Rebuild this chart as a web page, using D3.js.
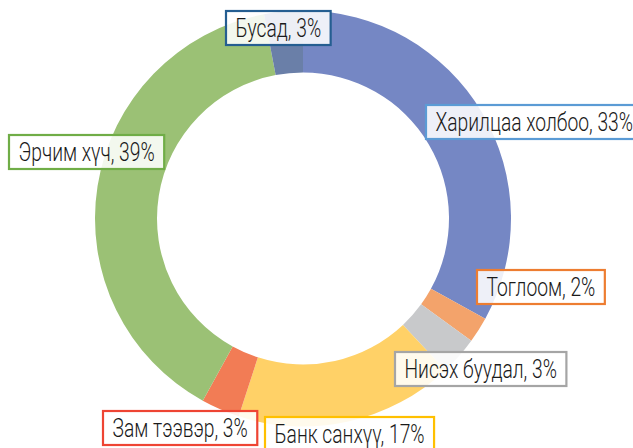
<!DOCTYPE html>
<html>
<head>
<meta charset="utf-8">
<script src="https://cdn.jsdelivr.net/npm/d3@7"></script>
<style>
  html, body { margin: 0; padding: 0; background: #fff; }
  svg { display: block; }
  .lbl text { font-family: "Roboto", "Liberation Sans", sans-serif; font-weight: 300; fill: #1a1a1a; }
</style>
</head>
<body>
<svg id="chart" width="633" height="448"></svg>
<script>
// Sector shares (%) in drawing order, clockwise from 12 o'clock
const categories = ["Харилцаа холбоо", "Тоглоом", "Нисэх буудал", "Банк санхүү", "Зам тээвэр", "Эрчим хүч", "Бусад"];
const values = [33, 2, 3, 17, 3, 39, 3];
const labels = categories.map((c, i) => `${c}, ${values[i]}%`);

// Slice fills and label border colours
const fills = ["#7587c4", "#f3a36b", "#c8c9cb", "#ffd167", "#f27c55", "#9bc175", "#6a7fa8"];
const borders = ["#5b9bd5", "#ed7d31", "#a5a5a5", "#ffc000", "#ee4433", "#70ad47", "#255e91"];

// Top-left corners of the callout boxes
const boxPos = [[426, 105], [477, 270], [395, 352], [265, 417], [103, 411], [9, 135], [226, 11]];

const W = 633, H = 448;
const cx = 303, cy = 218.5, rOuter = 208, rInner = 146;

const svg = d3.select("#chart");
const g = svg.append("g").attr("transform", `translate(${cx},${cy})`);

const pie = d3.pie().sort(null).value(d => d)(values);
const arc = d3.arc().innerRadius(rInner).outerRadius(rOuter);

g.selectAll("path.slice")
  .data(pie)
  .join("path")
  .attr("class", "slice")
  .attr("d", arc)
  .attr("fill", (d, i) => fills[i]);

// Callout labels: condensed text inside translucent bordered boxes
const fs = 25, sx = 0.77, padX = 9.5, boxH = 34;
const lg = svg.append("g").attr("class", "lbl");
labels.forEach((t, i) => {
  const grp = lg.append("g").attr("transform", `translate(${boxPos[i][0]},${boxPos[i][1]})`);
  const rect = grp.append("rect").attr("fill", "rgba(255,255,255,0.88)")
    .attr("stroke", borders[i]).attr("stroke-width", 2.2);
  const txt = grp.append("text")
    .attr("transform", `translate(${padX},26) scale(${sx},1)`)
    .attr("font-size", fs).text(t);
  const w = txt.node().getComputedTextLength() * sx;
  rect.attr("x", 0).attr("y", 0).attr("width", w + 2 * padX).attr("height", boxH);
});
</script>
</body>
</html>
